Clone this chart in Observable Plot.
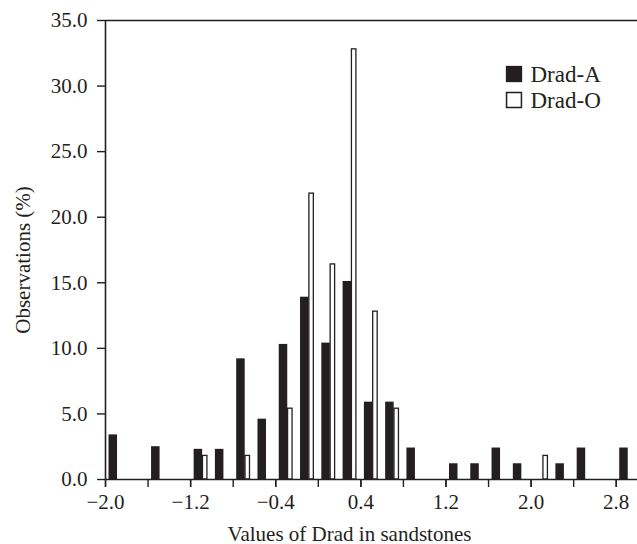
<!DOCTYPE html>
<html><head><meta charset="utf-8">
<script src="https://cdn.jsdelivr.net/npm/d3@7"></script>
<script src="https://cdn.jsdelivr.net/npm/@observablehq/plot@0.6"></script>
<style>body{margin:0;background:#fff;}</style>
</head><body><div id="chart"></div>
<script>
// Bin lower edges (width 0.2)
const binStarts = [-2.0,-1.8,-1.6,-1.4,-1.2,-1.0,-0.8,-0.6,-0.4,-0.2,0.0,0.2,0.4,0.6,0.8,1.0,1.2,1.4,1.6,1.8,2.0,2.2,2.4,2.6,2.8];
// Observations (%) per bin
const dradA = [3.4,0,2.5,0,2.3,2.3,9.2,4.6,10.3,13.9,10.4,15.1,5.9,5.9,2.4,0,1.2,1.2,2.4,1.2,0,1.2,2.4,0,2.4];
const dradO = [0,0,0,0,1.8,0,1.8,0,5.4,21.8,16.4,32.8,12.8,5.4,0,0,0,0,0,0,1.8,0,0,0,0];
const seriesNames = ["Drad-A","Drad-O"];
const xTicks = [-2.0,-1.6,-1.2,-0.8,-0.4,0.0,0.4,0.8,1.2,1.6,2.0,2.4,2.8];
const xLabels = [-2.0,-1.2,-0.4,0.4,1.2,2.0,2.8];
const yTicks = [0,5,10,15,20,25,30,35];
const xTitle = "Values of Drad in sandstones";
const yTitle = "Observations (%)";

const ink = "#231f20";
const fmt = d3.format(".1f");
const rowsA = binStarts.map((b,i)=>({b, v:dradA[i]})).filter(d=>d.v>0);
const rowsO = binStarts.map((b,i)=>({b, v:dradO[i]})).filter(d=>d.v>0);

const chart = Plot.plot({
  width: 637, height: 544,
  marginLeft: 105, marginRight: 0, marginTop: 20, marginBottom: 65,
  style: {fontFamily: '"Liberation Serif", "Times New Roman", serif', fontSize: "21px", color: ink, background: "#fff"},
  x: {domain: [-2.0, 3.0]},
  y: {domain: [0, 35]},
  marks: [
    Plot.rectY(rowsA, {x1: d=>d.b+0.033, x2: d=>d.b+0.113, y1: 0, y2: "v", fill: ink}),
    Plot.rectY(rowsO, {x1: d=>d.b+0.116, x2: d=>d.b+0.158, y1: 0, y2: "v", fill: "#fff", stroke: ink, strokeWidth: 1.3}),
    Plot.ruleY([0], {stroke: ink, strokeWidth: 1.6}),
    Plot.ruleY([35], {stroke: ink, strokeWidth: 1.4}),
    Plot.ruleX([-2.0], {y1: 0, y2: 35, stroke: ink, strokeWidth: 1.6}),
    Plot.axisY({ticks: yTicks, tickSize: 8, tickPadding: 10, tickFormat: fmt, label: null, fontSize: 21, stroke: ink, strokeWidth: 1.4}),
    Plot.axisX({ticks: xTicks, tickSize: 8, fill: "none", label: null, stroke: ink, strokeWidth: 1.4}),
    Plot.axisX({ticks: xLabels, tickSize: 8, tickPadding: 7, tickFormat: fmt, label: null, fontSize: 21, stroke: ink, strokeWidth: 1.4}),
    Plot.text([yTitle], {frameAnchor: "left", rotate: -90, textAnchor: "middle", dx: -82, dy: 10, fontSize: 21, fill: ink}),
    Plot.text([xTitle], {frameAnchor: "bottom", dx: -22, dy: 61, fontSize: 21, fill: ink}),
    Plot.dot([seriesNames[0]], {frameAnchor: "top-right", dx: -123.5, dy: 53.5, symbol: "square", r: 9.2, fill: ink}),
    Plot.dot([seriesNames[1]], {frameAnchor: "top-right", dx: -123.5, dy: 79.5, symbol: "square", r: 8.4, fill: "#fff", stroke: ink, strokeWidth: 1.5}),
    Plot.text([seriesNames[0]], {frameAnchor: "top-right", dx: -107, dy: 54, textAnchor: "start", lineAnchor: "middle", fontSize: 23, fill: ink}),
    Plot.text([seriesNames[1]], {frameAnchor: "top-right", dx: -107, dy: 80, textAnchor: "start", lineAnchor: "middle", fontSize: 23, fill: ink})
  ]
});
document.getElementById("chart").appendChild(chart);
</script>
</body></html>
